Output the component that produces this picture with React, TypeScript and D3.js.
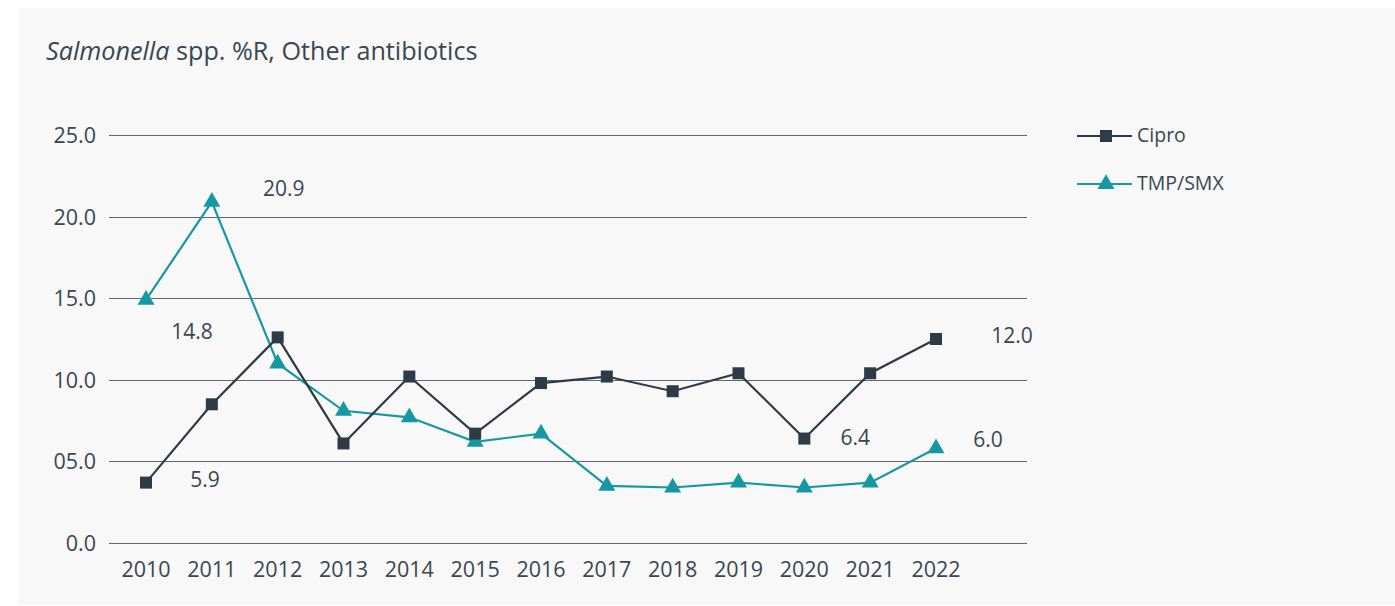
import * as d3 from "d3";
import React, { useEffect, useRef } from "react";

const years = ["2010", "2011", "2012", "2013", "2014", "2015", "2016", "2017", "2018", "2019", "2020", "2021", "2022"];
const cipro = [3.7, 8.5, 12.6, 6.1, 10.2, 6.7, 9.8, 10.2, 9.3, 10.4, 6.4, 10.4, 12.5];
const tmpSmx = [14.9, 20.9, 11.0, 8.1, 7.7, 6.2, 6.7, 3.5, 3.4, 3.7, 3.4, 3.7, 5.8];
const yTicks = [0, 5, 10, 15, 20, 25];
const yTickLabels = ["0.0", "05.0", "10.0", "15.0", "20.0", "25.0"];

// stray data labels as they appear in the picture: anchor series/year + text
const dataLabels = [
  { series: "tmp", year: "2011", text: "20.9" },
  { series: "tmp", year: "2010", text: "14.8" },
  { series: "cipro", year: "2010", text: "5.9" },
  { series: "cipro", year: "2020", text: "6.4" },
  { series: "tmp", year: "2022", text: "6.0" },
  { series: "cipro", year: "2022", text: "12.0" },
];
const labelOffsets: Record<string, [number, number]> = {
  "20.9": [72, -14],
  "14.8": [46, 31],
  "5.9": [59, -4],
  "6.4": [51, -2],
  "6.0": [52, -9],
  "12.0": [76, -4],
};

const NAVY = "#2e3b47";
const TEAL = "#1698a3";
const TEXT = "#3a4651";
const GRID = "#5f6870";
const FONT = "'Open Sans', sans-serif";

function Chart() {
  const ref = useRef<SVGSVGElement>(null);

  useEffect(() => draw(), []);

  function draw() {
    const svg = d3.select(ref.current);
    svg.selectAll("*").remove();

    const width = 1395;
    const height = 606;

    svg.append("rect").attr("width", width).attr("height", height).attr("fill", "#ffffff");
    svg.append("rect").attr("x", 18).attr("y", 8).attr("width", width - 18).attr("height", height - 9).attr("fill", "#f8f8f8");

    const x = d3.scalePoint().domain(years).range([146, 936]);
    const y = d3.scaleLinear().domain([0, 25]).range([543, 135]);

    // title
    const title = svg.append("text")
      .attr("x", 46)
      .attr("y", 60)
      .attr("fill", TEXT)
      .style("font-family", FONT)
      .style("font-size", "25.2px");
    title.append("tspan").style("font-style", "italic").text("Salmonella");
    title.append("tspan").text(" spp. %R, Other antibiotics");

    // gridlines
    svg.append("g")
      .selectAll("line")
      .data(yTicks)
      .enter()
      .append("line")
      .attr("x1", 109)
      .attr("x2", 1027)
      .attr("y1", d => Math.round(y(d)) + 0.5)
      .attr("y2", d => Math.round(y(d)) + 0.5)
      .attr("stroke", GRID)
      .attr("stroke-width", 1);

    svg.append("g")
      .selectAll("text")
      .data(yTicks)
      .enter()
      .append("text")
      .attr("x", 96)
      .attr("y", d => y(d) + 8)
      .attr("text-anchor", "end")
      .attr("fill", TEXT)
      .style("font-family", FONT)
      .style("font-size", "21.5px")
      .text((d, i) => yTickLabels[i]);

    svg.append("g")
      .selectAll("text")
      .data(years)
      .enter()
      .append("text")
      .attr("x", d => x(d)!)
      .attr("y", 577)
      .attr("text-anchor", "middle")
      .attr("fill", TEXT)
      .style("font-family", FONT)
      .style("font-size", "21.5px")
      .text(d => d);

    const line = d3.line<number>()
      .x((d, i) => x(years[i])!)
      .y(d => y(d));

    const tri = d3.symbol().type(d3.symbolTriangle).size(125);

    // TMP/SMX
    svg.append("path")
      .attr("d", line(tmpSmx))
      .attr("fill", "none")
      .attr("stroke", TEAL)
      .attr("stroke-width", 2.2);
    svg.append("g")
      .selectAll("path")
      .data(tmpSmx)
      .enter()
      .append("path")
      .attr("d", tri())
      .attr("transform", (d, i) => `translate(${x(years[i])},${y(d)})`)
      .attr("fill", TEAL);

    // Cipro
    svg.append("path")
      .attr("d", line(cipro))
      .attr("fill", "none")
      .attr("stroke", NAVY)
      .attr("stroke-width", 2.2);
    svg.append("g")
      .selectAll("rect")
      .data(cipro)
      .enter()
      .append("rect")
      .attr("x", (d, i) => x(years[i])! - 6)
      .attr("y", d => y(d) - 6)
      .attr("width", 12)
      .attr("height", 12)
      .attr("fill", NAVY);

    // data labels
    svg.append("g")
      .selectAll("text")
      .data(dataLabels)
      .enter()
      .append("text")
      .attr("x", d => x(d.year)! + labelOffsets[d.text][0])
      .attr("y", d => {
        const vals = d.series === "tmp" ? tmpSmx : cipro;
        return y(vals[years.indexOf(d.year)]) + labelOffsets[d.text][1] + 8;
      })
      .attr("text-anchor", "middle")
      .attr("fill", TEXT)
      .style("font-family", FONT)
      .style("font-size", "21px")
      .text(d => d.text);

    // legend
    const legend = [
      { name: "Cipro", color: NAVY, shape: "square" },
      { name: "TMP/SMX", color: TEAL, shape: "triangle" },
    ];
    const lg = svg.append("g")
      .selectAll("g")
      .data(legend)
      .enter()
      .append("g")
      .attr("transform", (d, i) => `translate(1077,${136 + i * 48})`);
    lg.append("line")
      .attr("x1", 0)
      .attr("x2", 55)
      .attr("stroke", d => d.color)
      .attr("stroke-width", 2.2);
    lg.append("path")
      .attr("d", d => d.shape === "square"
        ? d3.symbol().type(d3.symbolSquare).size(144)()
        : tri())
      .attr("transform", "translate(29,0)")
      .attr("fill", d => d.color);
    lg.append("text")
      .attr("x", 60)
      .attr("y", 6)
      .attr("fill", TEXT)
      .style("font-family", FONT)
      .style("font-size", "19.5px")
      .text(d => d.name);
  }

  return (
    <div style={{ position: "absolute", left: 0, top: 0 }}>
      <svg ref={ref} width={1395} height={606} style={{ display: "block" }} />
    </div>
  );
}

export default function App() {
  return <Chart />;
}
